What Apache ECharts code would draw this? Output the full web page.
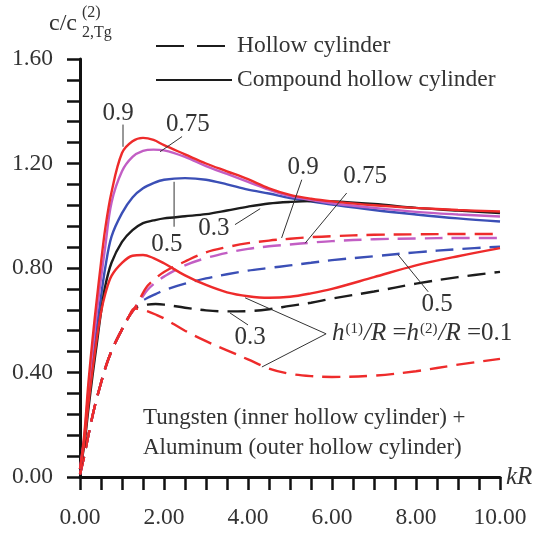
<!DOCTYPE html>
<html>
<head>
<meta charset="utf-8">
<script src="https://cdn.jsdelivr.net/npm/echarts@6/dist/echarts.min.js"></script>
<style>
  html, body { margin: 0; padding: 0; background: #fff; }
  #chart { width: 541px; height: 535px; }
</style>
</head>
<body>
<div id="chart"></div>
<script>
// x samples (kR) shared by the solid curves
const xSolid = [0, 0.1, 0.2, 0.3, 0.4, 0.5, 0.6, 0.75, 1.0, 1.25, 1.5, 1.75, 2.0, 2.5, 3.0, 3.5, 4.0, 4.5, 5.0, 5.5, 6.0, 7.0, 8.0, 9.0, 10.0]
// compound hollow cylinder (solid)
const solid09 = [0.03, 0.16, 0.36, 0.53, 0.68, 0.82, 0.95, 1.09, 1.24, 1.285, 1.298, 1.29, 1.27, 1.235, 1.20, 1.17, 1.14, 1.105, 1.08, 1.065, 1.055, 1.04, 1.03, 1.022, 1.016]
const solid075 = [0.03, 0.15, 0.33, 0.49, 0.63, 0.76, 0.88, 1.05, 1.17, 1.225, 1.248, 1.253, 1.25, 1.225, 1.19, 1.16, 1.13, 1.10, 1.075, 1.06, 1.048, 1.03, 1.015, 1.005, 0.997]
const solid05 = [0.03, 0.14, 0.29, 0.43, 0.57, 0.69, 0.80, 0.92, 1.01, 1.07, 1.105, 1.125, 1.138, 1.144, 1.138, 1.12, 1.10, 1.085, 1.068, 1.055, 1.043, 1.022, 1.005, 0.99, 0.978]
const solid03 = [0.03, 0.12, 0.26, 0.39, 0.51, 0.63, 0.73, 0.82, 0.90, 0.945, 0.972, 0.982, 0.99, 0.998, 1.006, 1.02, 1.035, 1.047, 1.053, 1.056, 1.055, 1.045, 1.03, 1.02, 1.01]
const solid01 = [0.03, 0.13, 0.28, 0.41, 0.53, 0.63, 0.70, 0.77, 0.82, 0.847, 0.85, 0.838, 0.818, 0.772, 0.735, 0.707, 0.692, 0.686, 0.69, 0.703, 0.72, 0.765, 0.81, 0.845, 0.876]

// x samples shared by the dashed curves
const xDashed = [0, 0.1, 0.2, 0.35, 0.5, 0.65, 0.8, 1.0, 1.15, 1.3, 1.45, 1.6, 1.8, 2.0, 2.5, 3.0, 3.5, 4.0, 4.5, 5.0, 5.5, 6.0, 7.0, 8.0, 9.0, 10.0]
// hollow cylinder (dashed)
const dashed09 = [0.01, 0.08, 0.16, 0.27, 0.36, 0.44, 0.50, 0.565, 0.61, 0.645, 0.69, 0.73, 0.76, 0.785, 0.825, 0.86, 0.88, 0.895, 0.905, 0.912, 0.918, 0.922, 0.927, 0.929, 0.93, 0.93]
const dashed075 = [0.01, 0.08, 0.16, 0.27, 0.36, 0.44, 0.50, 0.565, 0.61, 0.645, 0.68, 0.715, 0.745, 0.767, 0.81, 0.838, 0.858, 0.873, 0.883, 0.89, 0.897, 0.903, 0.91, 0.913, 0.915, 0.915]
const dashed05 = [0.01, 0.08, 0.16, 0.27, 0.36, 0.44, 0.50, 0.565, 0.61, 0.645, 0.67, 0.685, 0.70, 0.715, 0.74, 0.76, 0.776, 0.79, 0.80, 0.81, 0.82, 0.83, 0.845, 0.86, 0.872, 0.882]
const dashed03 = [0.01, 0.08, 0.16, 0.27, 0.36, 0.44, 0.50, 0.565, 0.61, 0.645, 0.655, 0.66, 0.662, 0.66, 0.648, 0.638, 0.634, 0.635, 0.642, 0.655, 0.667, 0.683, 0.71, 0.74, 0.765, 0.785]
const dashed01 = [0.01, 0.08, 0.16, 0.27, 0.36, 0.44, 0.50, 0.565, 0.61, 0.645, 0.642, 0.635, 0.622, 0.607, 0.56, 0.52, 0.485, 0.45, 0.415, 0.395, 0.386, 0.383, 0.388, 0.405, 0.43, 0.452]

// curve labels: text anchor, leader start, leader end (data coords)
const labelText = ['0.9', '0.75', '0.5', '0.3', '0.9', '0.75', '0.5', '0.3']
const labelAt = [[0.905, 1.39], [2.57, 1.35], [2.07, 0.89], [3.19, 0.95], [5.31, 1.186], [6.79, 1.15], [8.5, 0.659], [4.05, 0.533]]
const leaderFrom = [[1.024, 1.349], [2.43, 1.303], [2.24, 1.13], [3.69, 0.966], [5.28, 1.138], [6.35, 1.087], [8.29, 0.709], [4.0, 0.582]]
const leaderTo = [[1.024, 1.264], [1.905, 1.245], [2.24, 0.958], [4.29, 1.027], [4.80, 0.915], [5.36, 0.895], [7.57, 0.851], [3.57, 0.628]]
// h/R = 0.1 label and its two leaders
const hLabelAt = [6.0, 0.548]
const hLeaderFrom = [5.86, 0.548]
const hLeaderTo = [[3.93, 0.686], [4.33, 0.421]]

const red = '#ee2b2b'
const magenta = '#c25ec4'
const blue = '#3b4fb6'
const black = '#1c1c1c'
const serif = '"Liberation Serif", "DejaVu Serif", serif'
const textColor = '#333'

const zip = (xs, ys) => xs.map((x, i) => [x, ys[i]])
const dash = [18, 9]

const curve = (name, xs, ys, color, dashed) => ({
  name: name,
  type: 'line',
  data: zip(xs, ys),
  smooth: 0.35,
  symbol: 'none',
  silent: true,
  lineStyle: { color: color, width: 2.4, type: dashed ? dash : 'solid' },
  z: 3
})

const chart = echarts.init(document.getElementById('chart'))
chart.setOption({
  animation: false,
  grid: { left: 80, right: 41, top: 59, bottom: 58 },
  legend: {
    orient: 'vertical',
    left: 150,
    top: 29,
    itemWidth: 76,
    itemHeight: 14,
    itemGap: 10,
    selectedMode: false,
    data: ['Hollow cylinder', 'Compound hollow cylinder'],
    itemStyle: { opacity: 0 },
    textStyle: { fontFamily: serif, fontSize: 23.5, color: textColor }
  },
  xAxis: {
    type: 'value',
    min: 0,
    max: 10,
    interval: 2,
    name: 'kR',
    nameLocation: 'end',
    nameGap: 6,
    nameTextStyle: { fontFamily: serif, fontSize: 25, fontStyle: 'italic', color: textColor },
    axisLine: { lineStyle: { color: '#111', width: 3 } },
    axisTick: { show: true, inside: false, length: 13, lineStyle: { color: '#111', width: 2.5 } },
    minorTick: { show: true, splitNumber: 4, length: 13, lineStyle: { color: '#111', width: 2.5 } },
    splitLine: { show: false },
    axisLabel: {
      margin: 29,
      fontFamily: serif,
      fontSize: 23.5,
      color: textColor,
      formatter: v => v.toFixed(2)
    }
  },
  yAxis: {
    type: 'value',
    min: 0,
    max: 1.6,
    interval: 0.4,
    axisLine: { show: true, lineStyle: { color: '#111', width: 3 } },
    axisTick: { show: true, inside: false, length: 13, lineStyle: { color: '#111', width: 2.5 } },
    minorTick: { show: true, splitNumber: 5, length: 13, lineStyle: { color: '#111', width: 2.5 } },
    splitLine: { show: false },
    axisLabel: {
      margin: 27,
      fontFamily: serif,
      fontSize: 23.5,
      color: textColor,
      formatter: v => v.toFixed(2)
    }
  },
  series: [
    { name: 'Hollow cylinder', type: 'line', data: [], symbol: 'none', lineStyle: { color: black, width: 2.2, type: [28, 13] }, itemStyle: { color: black } },
    { name: 'Compound hollow cylinder', type: 'line', data: [], symbol: 'none', lineStyle: { color: black, width: 2.2 }, itemStyle: { color: black } },
    curve('d05', xDashed, dashed05, blue, true),
    curve('d03', xDashed, dashed03, black, true),
    curve('d075', xDashed, dashed075, magenta, true),
    curve('d09', xDashed, dashed09, red, true),
    curve('d01', xDashed, dashed01, red, true),
    curve('s05', xSolid, solid05, blue, false),
    curve('s03', xSolid, solid03, black, false),
    curve('s075', xSolid, solid075, magenta, false),
    curve('s09', xSolid, solid09, red, false),
    curve('s01', xSolid, solid01, red, false)
  ]
})

// annotations placed through the grid's own scale
const px = p => chart.convertToPixel({ gridIndex: 0 }, p)
const graphics = []
labelText.forEach((t, i) => {
  const a = px(leaderFrom[i]), b = px(leaderTo[i]), c = px(labelAt[i])
  graphics.push({
    type: 'line', silent: true, z: 10,
    shape: { x1: a[0], y1: a[1], x2: b[0], y2: b[1] },
    style: { stroke: '#333', lineWidth: 1 }
  })
  graphics.push({
    type: 'text', silent: true, z: 10, x: c[0], y: c[1],
    style: { text: t, fontFamily: serif, fontSize: 25, fill: textColor, align: 'center', verticalAlign: 'middle' }
  })
})
const hf = px(hLeaderFrom)
hLeaderTo.forEach(p => {
  const b = px(p)
  graphics.push({
    type: 'line', silent: true, z: 10,
    shape: { x1: hf[0], y1: hf[1], x2: b[0], y2: b[1] },
    style: { stroke: '#333', lineWidth: 1 }
  })
})
const hp = px(hLabelAt)
graphics.push({
  type: 'text', silent: true, z: 10, x: hp[0], y: hp[1],
  style: {
    text: '{i|h}{s|(1)}{i|/R} ={i|h}{s|(2)}{i|/R} =0.1',
    fontFamily: serif, fontSize: 25, fill: textColor, align: 'left', verticalAlign: 'middle',
    rich: {
      i: { fontFamily: serif, fontSize: 25, fontStyle: 'italic', fill: textColor },
      s: { fontFamily: serif, fontSize: 15, fill: textColor, verticalAlign: 'top', padding: [0, 1, 9, 1] }
    }
  }
})
// material note
graphics.push({
  type: 'text', silent: true, left: 143, top: 403,
  style: {
    text: 'Tungsten (inner hollow cylinder) +\nAluminum (outer hollow cylinder)',
    fontFamily: serif, fontSize: 23, lineHeight: 30, fill: textColor
  }
})
// y-axis quantity c/c^(2)_(2,Tg)
graphics.push({
  type: 'group', left: 49, top: 5,
  children: [
    { type: 'text', x: 0, y: 9, style: { text: 'c/c', fontFamily: serif, fontSize: 24, fill: textColor } },
    { type: 'text', x: 33, y: 2, style: { text: '(2)', fontFamily: serif, fontSize: 16, fill: textColor } },
    { type: 'text', x: 33, y: 22, style: { text: '2,Tg', fontFamily: serif, fontSize: 16, fill: textColor } }
  ]
})
chart.setOption({ graphic: graphics })
</script>
</body>
</html>
